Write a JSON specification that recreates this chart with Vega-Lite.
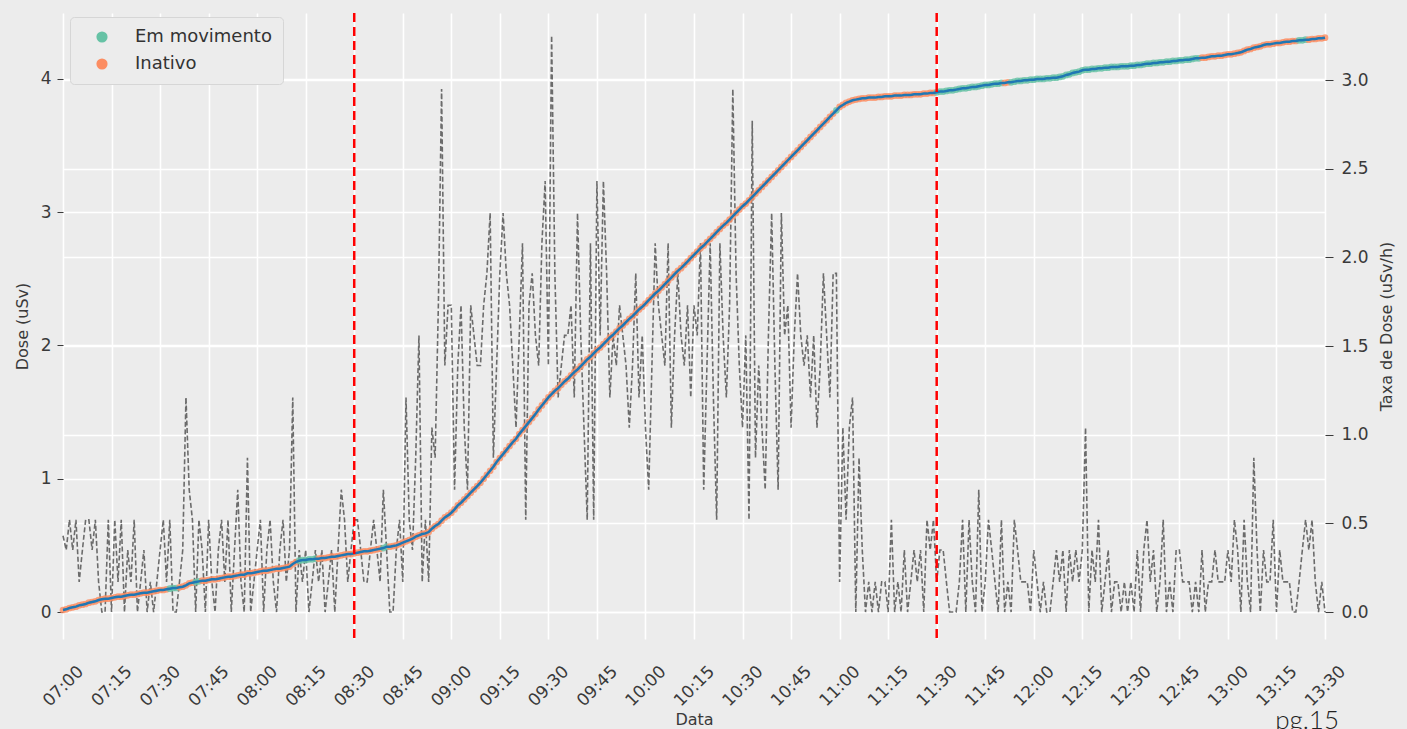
{
  "$schema": "https://vega.github.io/schema/vega-lite/v6.json",
  "autosize": "none",
  "width": 1262,
  "height": 626,
  "padding": {"left": 63, "top": 13, "right": 82, "bottom": 90},
  "background": "#ececec",
  "title": {"text": "pg.15", "orient": "bottom", "anchor": "end", "font": "Lato", "fontSize": 26, "fontWeight": 300, "color": "#222222", "offset": -20, "dx": -55},
  "config": {
    "view": {"fill": "#ececec", "stroke": null},
    "axis": {"domain": false, "gridColor": "#ffffff", "gridWidth": 1.6, "gridOpacity": 1, "labelFont": "DejaVu Sans", "titleFont": "DejaVu Sans", "labelColor": "#3a3a3a", "titleColor": "#3a3a3a", "titleFontWeight": "normal", "tickColor": "#3a3a3a", "labelFontSize": 17, "titleFontSize": 16}
  },
  "data": {
    "format": {"parse": {"hora": "utc:'%H:%M'"}},
    "values": [
{"hora":"07:00","dose":0.015,"taxa":0.43,"estado":"Inativo"},
{"hora":"07:01","dose":0.02,"taxa":0.35,"estado":"Inativo"},
{"hora":"07:02","dose":0.03,"taxa":0.52,"estado":"Inativo"},
{"hora":"07:03","dose":0.035,"taxa":0.35,"estado":"Inativo"},
{"hora":"07:04","dose":0.04,"taxa":0.52,"estado":"Inativo"},
{"hora":"07:05","dose":0.05,"taxa":0.17,"estado":"Inativo"},
{"hora":"07:06","dose":0.055,"taxa":0.35,"estado":"Inativo"},
{"hora":"07:07","dose":0.06,"taxa":0.52,"estado":"Inativo"},
{"hora":"07:08","dose":0.07,"taxa":0.52,"estado":"Inativo"},
{"hora":"07:09","dose":0.075,"taxa":0.35,"estado":"Inativo"},
{"hora":"07:10","dose":0.08,"taxa":0.52,"estado":"Inativo"},
{"hora":"07:11","dose":0.09,"taxa":0.17,"estado":"Inativo"},
{"hora":"07:12","dose":0.095,"taxa":0,"estado":"Inativo"},
{"hora":"07:13","dose":0.1,"taxa":0,"estado":"Inativo"},
{"hora":"07:14","dose":0.1,"taxa":0.52,"estado":"Inativo"},
{"hora":"07:15","dose":0.105,"taxa":0,"estado":"Inativo"},
{"hora":"07:16","dose":0.11,"taxa":0.52,"estado":"Inativo"},
{"hora":"07:17","dose":0.115,"taxa":0.17,"estado":"Inativo"},
{"hora":"07:18","dose":0.115,"taxa":0.52,"estado":"Inativo"},
{"hora":"07:19","dose":0.12,"taxa":0,"estado":"Inativo"},
{"hora":"07:20","dose":0.125,"taxa":0.35,"estado":"Inativo"},
{"hora":"07:21","dose":0.13,"taxa":0.17,"estado":"Inativo"},
{"hora":"07:22","dose":0.13,"taxa":0.52,"estado":"Inativo"},
{"hora":"07:23","dose":0.135,"taxa":0,"estado":"Inativo"},
{"hora":"07:24","dose":0.14,"taxa":0.17,"estado":"Inativo"},
{"hora":"07:25","dose":0.145,"taxa":0.35,"estado":"Inativo"},
{"hora":"07:26","dose":0.145,"taxa":0,"estado":"Inativo"},
{"hora":"07:27","dose":0.15,"taxa":0.17,"estado":"Inativo"},
{"hora":"07:28","dose":0.155,"taxa":0,"estado":"Inativo"},
{"hora":"07:29","dose":0.16,"taxa":0.17,"estado":"Inativo"},
{"hora":"07:30","dose":0.165,"taxa":0.35,"estado":"Inativo"},
{"hora":"07:31","dose":0.165,"taxa":0.52,"estado":"Inativo"},
{"hora":"07:32","dose":0.17,"taxa":0.17,"estado":"Inativo"},
{"hora":"07:33","dose":0.175,"taxa":0.52,"estado":"Em movimento"},
{"hora":"07:34","dose":0.18,"taxa":0,"estado":"Em movimento"},
{"hora":"07:35","dose":0.18,"taxa":0,"estado":"Em movimento"},
{"hora":"07:36","dose":0.185,"taxa":0.17,"estado":"Inativo"},
{"hora":"07:37","dose":0.19,"taxa":0.35,"estado":"Inativo"},
{"hora":"07:38","dose":0.2,"taxa":1.21,"estado":"Inativo"},
{"hora":"07:39","dose":0.215,"taxa":0.69,"estado":"Inativo"},
{"hora":"07:40","dose":0.22,"taxa":0.52,"estado":"Inativo"},
{"hora":"07:41","dose":0.225,"taxa":0,"estado":"Em movimento"},
{"hora":"07:42","dose":0.23,"taxa":0.52,"estado":"Em movimento"},
{"hora":"07:43","dose":0.235,"taxa":0.35,"estado":"Inativo"},
{"hora":"07:44","dose":0.235,"taxa":0,"estado":"Inativo"},
{"hora":"07:45","dose":0.24,"taxa":0.52,"estado":"Inativo"},
{"hora":"07:46","dose":0.245,"taxa":0.17,"estado":"Inativo"},
{"hora":"07:47","dose":0.245,"taxa":0,"estado":"Inativo"},
{"hora":"07:48","dose":0.25,"taxa":0.35,"estado":"Inativo"},
{"hora":"07:49","dose":0.255,"taxa":0.52,"estado":"Inativo"},
{"hora":"07:50","dose":0.26,"taxa":0.17,"estado":"Inativo"},
{"hora":"07:51","dose":0.265,"taxa":0.52,"estado":"Inativo"},
{"hora":"07:52","dose":0.265,"taxa":0,"estado":"Inativo"},
{"hora":"07:53","dose":0.27,"taxa":0.35,"estado":"Inativo"},
{"hora":"07:54","dose":0.275,"taxa":0.69,"estado":"Inativo"},
{"hora":"07:55","dose":0.28,"taxa":0.17,"estado":"Inativo"},
{"hora":"07:56","dose":0.28,"taxa":0,"estado":"Inativo"},
{"hora":"07:57","dose":0.29,"taxa":0.87,"estado":"Inativo"},
{"hora":"07:58","dose":0.29,"taxa":0,"estado":"Inativo"},
{"hora":"07:59","dose":0.295,"taxa":0.17,"estado":"Inativo"},
{"hora":"08:00","dose":0.3,"taxa":0.35,"estado":"Inativo"},
{"hora":"08:01","dose":0.305,"taxa":0.52,"estado":"Inativo"},
{"hora":"08:02","dose":0.31,"taxa":0,"estado":"Inativo"},
{"hora":"08:03","dose":0.31,"taxa":0.35,"estado":"Inativo"},
{"hora":"08:04","dose":0.315,"taxa":0.52,"estado":"Inativo"},
{"hora":"08:05","dose":0.32,"taxa":0.17,"estado":"Inativo"},
{"hora":"08:06","dose":0.325,"taxa":0,"estado":"Inativo"},
{"hora":"08:07","dose":0.325,"taxa":0.35,"estado":"Inativo"},
{"hora":"08:08","dose":0.33,"taxa":0.52,"estado":"Inativo"},
{"hora":"08:09","dose":0.335,"taxa":0.17,"estado":"Inativo"},
{"hora":"08:10","dose":0.34,"taxa":0.35,"estado":"Inativo"},
{"hora":"08:11","dose":0.36,"taxa":1.21,"estado":"Inativo"},
{"hora":"08:12","dose":0.375,"taxa":0,"estado":"Inativo"},
{"hora":"08:13","dose":0.385,"taxa":0.35,"estado":"Em movimento"},
{"hora":"08:14","dose":0.39,"taxa":0.17,"estado":"Em movimento"},
{"hora":"08:15","dose":0.39,"taxa":0.35,"estado":"Em movimento"},
{"hora":"08:16","dose":0.395,"taxa":0,"estado":"Em movimento"},
{"hora":"08:17","dose":0.395,"taxa":0.17,"estado":"Em movimento"},
{"hora":"08:18","dose":0.4,"taxa":0.35,"estado":"Em movimento"},
{"hora":"08:19","dose":0.4,"taxa":0.17,"estado":"Inativo"},
{"hora":"08:20","dose":0.405,"taxa":0.35,"estado":"Inativo"},
{"hora":"08:21","dose":0.405,"taxa":0,"estado":"Inativo"},
{"hora":"08:22","dose":0.41,"taxa":0.17,"estado":"Inativo"},
{"hora":"08:23","dose":0.415,"taxa":0.35,"estado":"Inativo"},
{"hora":"08:24","dose":0.415,"taxa":0,"estado":"Inativo"},
{"hora":"08:25","dose":0.42,"taxa":0.35,"estado":"Inativo"},
{"hora":"08:26","dose":0.425,"taxa":0.69,"estado":"Inativo"},
{"hora":"08:27","dose":0.43,"taxa":0.52,"estado":"Inativo"},
{"hora":"08:28","dose":0.435,"taxa":0.17,"estado":"Inativo"},
{"hora":"08:29","dose":0.435,"taxa":0.35,"estado":"Inativo"},
{"hora":"08:30","dose":0.44,"taxa":0.52,"estado":"Inativo"},
{"hora":"08:31","dose":0.445,"taxa":0.52,"estado":"Inativo"},
{"hora":"08:32","dose":0.45,"taxa":0.35,"estado":"Inativo"},
{"hora":"08:33","dose":0.455,"taxa":0.17,"estado":"Inativo"},
{"hora":"08:34","dose":0.455,"taxa":0.17,"estado":"Inativo"},
{"hora":"08:35","dose":0.46,"taxa":0.35,"estado":"Inativo"},
{"hora":"08:36","dose":0.465,"taxa":0.52,"estado":"Inativo"},
{"hora":"08:37","dose":0.47,"taxa":0.35,"estado":"Inativo"},
{"hora":"08:38","dose":0.475,"taxa":0.17,"estado":"Inativo"},
{"hora":"08:39","dose":0.48,"taxa":0.69,"estado":"Em movimento"},
{"hora":"08:40","dose":0.49,"taxa":0.35,"estado":"Em movimento"},
{"hora":"08:41","dose":0.49,"taxa":0,"estado":"Inativo"},
{"hora":"08:42","dose":0.495,"taxa":0,"estado":"Inativo"},
{"hora":"08:43","dose":0.5,"taxa":0.35,"estado":"Inativo"},
{"hora":"08:44","dose":0.51,"taxa":0.52,"estado":"Inativo"},
{"hora":"08:45","dose":0.52,"taxa":0.17,"estado":"Inativo"},
{"hora":"08:46","dose":0.53,"taxa":1.21,"estado":"Inativo"},
{"hora":"08:47","dose":0.54,"taxa":0.52,"estado":"Inativo"},
{"hora":"08:48","dose":0.55,"taxa":0.35,"estado":"Inativo"},
{"hora":"08:49","dose":0.565,"taxa":0.87,"estado":"Inativo"},
{"hora":"08:50","dose":0.575,"taxa":1.56,"estado":"Inativo"},
{"hora":"08:51","dose":0.585,"taxa":0.17,"estado":"Inativo"},
{"hora":"08:52","dose":0.59,"taxa":0.52,"estado":"Inativo"},
{"hora":"08:53","dose":0.6,"taxa":0.17,"estado":"Inativo"},
{"hora":"08:54","dose":0.625,"taxa":1.04,"estado":"Inativo"},
{"hora":"08:55","dose":0.645,"taxa":0.87,"estado":"Inativo"},
{"hora":"08:56","dose":0.66,"taxa":1.73,"estado":"Inativo"},
{"hora":"08:57","dose":0.685,"taxa":2.95,"estado":"Inativo"},
{"hora":"08:58","dose":0.71,"taxa":1.39,"estado":"Inativo"},
{"hora":"08:59","dose":0.725,"taxa":1.73,"estado":"Inativo"},
{"hora":"09:00","dose":0.745,"taxa":1.73,"estado":"Inativo"},
{"hora":"09:01","dose":0.77,"taxa":0.69,"estado":"Inativo"},
{"hora":"09:02","dose":0.8,"taxa":1.39,"estado":"Inativo"},
{"hora":"09:03","dose":0.82,"taxa":1.73,"estado":"Inativo"},
{"hora":"09:04","dose":0.845,"taxa":1.04,"estado":"Inativo"},
{"hora":"09:05","dose":0.87,"taxa":0.69,"estado":"Inativo"},
{"hora":"09:06","dose":0.895,"taxa":1.73,"estado":"Inativo"},
{"hora":"09:07","dose":0.92,"taxa":1.56,"estado":"Inativo"},
{"hora":"09:08","dose":0.945,"taxa":1.39,"estado":"Inativo"},
{"hora":"09:09","dose":0.97,"taxa":1.39,"estado":"Inativo"},
{"hora":"09:10","dose":1.0,"taxa":1.73,"estado":"Inativo"},
{"hora":"09:11","dose":1.03,"taxa":1.91,"estado":"Inativo"},
{"hora":"09:12","dose":1.06,"taxa":2.25,"estado":"Inativo"},
{"hora":"09:13","dose":1.09,"taxa":0.87,"estado":"Inativo"},
{"hora":"09:14","dose":1.125,"taxa":1.39,"estado":"Inativo"},
{"hora":"09:15","dose":1.155,"taxa":1.91,"estado":"Inativo"},
{"hora":"09:16","dose":1.185,"taxa":2.25,"estado":"Inativo"},
{"hora":"09:17","dose":1.215,"taxa":1.91,"estado":"Inativo"},
{"hora":"09:18","dose":1.245,"taxa":1.73,"estado":"Inativo"},
{"hora":"09:19","dose":1.275,"taxa":1.39,"estado":"Inativo"},
{"hora":"09:20","dose":1.3,"taxa":1.04,"estado":"Inativo"},
{"hora":"09:21","dose":1.335,"taxa":1.56,"estado":"Inativo"},
{"hora":"09:22","dose":1.365,"taxa":2.08,"estado":"Inativo"},
{"hora":"09:23","dose":1.395,"taxa":0.52,"estado":"Inativo"},
{"hora":"09:24","dose":1.425,"taxa":1.73,"estado":"Inativo"},
{"hora":"09:25","dose":1.455,"taxa":1.91,"estado":"Inativo"},
{"hora":"09:26","dose":1.485,"taxa":1.56,"estado":"Inativo"},
{"hora":"09:27","dose":1.52,"taxa":1.39,"estado":"Inativo"},
{"hora":"09:28","dose":1.55,"taxa":2.08,"estado":"Inativo"},
{"hora":"09:29","dose":1.58,"taxa":2.43,"estado":"Inativo"},
{"hora":"09:30","dose":1.61,"taxa":1.39,"estado":"Inativo"},
{"hora":"09:31","dose":1.635,"taxa":3.25,"estado":"Inativo"},
{"hora":"09:32","dose":1.66,"taxa":1.91,"estado":"Inativo"},
{"hora":"09:33","dose":1.68,"taxa":1.21,"estado":"Inativo"},
{"hora":"09:34","dose":1.705,"taxa":1.39,"estado":"Inativo"},
{"hora":"09:35","dose":1.73,"taxa":1.56,"estado":"Inativo"},
{"hora":"09:36","dose":1.75,"taxa":1.56,"estado":"Inativo"},
{"hora":"09:37","dose":1.775,"taxa":1.73,"estado":"Inativo"},
{"hora":"09:38","dose":1.8,"taxa":1.21,"estado":"Inativo"},
{"hora":"09:39","dose":1.82,"taxa":2.25,"estado":"Inativo"},
{"hora":"09:40","dose":1.845,"taxa":1.56,"estado":"Inativo"},
{"hora":"09:41","dose":1.87,"taxa":1.04,"estado":"Inativo"},
{"hora":"09:42","dose":1.895,"taxa":0.52,"estado":"Inativo"},
{"hora":"09:43","dose":1.915,"taxa":2.08,"estado":"Inativo"},
{"hora":"09:44","dose":1.94,"taxa":0.52,"estado":"Inativo"},
{"hora":"09:45","dose":1.965,"taxa":2.43,"estado":"Inativo"},
{"hora":"09:46","dose":1.985,"taxa":1.56,"estado":"Inativo"},
{"hora":"09:47","dose":2.01,"taxa":2.43,"estado":"Inativo"},
{"hora":"09:48","dose":2.035,"taxa":1.91,"estado":"Inativo"},
{"hora":"09:49","dose":2.06,"taxa":1.21,"estado":"Inativo"},
{"hora":"09:50","dose":2.08,"taxa":1.56,"estado":"Inativo"},
{"hora":"09:51","dose":2.105,"taxa":1.39,"estado":"Inativo"},
{"hora":"09:52","dose":2.13,"taxa":1.73,"estado":"Inativo"},
{"hora":"09:53","dose":2.15,"taxa":1.56,"estado":"Inativo"},
{"hora":"09:54","dose":2.175,"taxa":1.39,"estado":"Inativo"},
{"hora":"09:55","dose":2.2,"taxa":1.04,"estado":"Inativo"},
{"hora":"09:56","dose":2.22,"taxa":1.39,"estado":"Inativo"},
{"hora":"09:57","dose":2.245,"taxa":1.91,"estado":"Inativo"},
{"hora":"09:58","dose":2.27,"taxa":1.21,"estado":"Inativo"},
{"hora":"09:59","dose":2.29,"taxa":1.56,"estado":"Inativo"},
{"hora":"10:00","dose":2.315,"taxa":1.04,"estado":"Inativo"},
{"hora":"10:01","dose":2.34,"taxa":0.69,"estado":"Inativo"},
{"hora":"10:02","dose":2.365,"taxa":1.39,"estado":"Inativo"},
{"hora":"10:03","dose":2.39,"taxa":2.08,"estado":"Inativo"},
{"hora":"10:04","dose":2.41,"taxa":1.73,"estado":"Inativo"},
{"hora":"10:05","dose":2.435,"taxa":1.56,"estado":"Inativo"},
{"hora":"10:06","dose":2.46,"taxa":1.39,"estado":"Inativo"},
{"hora":"10:07","dose":2.485,"taxa":2.08,"estado":"Inativo"},
{"hora":"10:08","dose":2.51,"taxa":1.04,"estado":"Inativo"},
{"hora":"10:09","dose":2.535,"taxa":1.56,"estado":"Inativo"},
{"hora":"10:10","dose":2.56,"taxa":1.91,"estado":"Inativo"},
{"hora":"10:11","dose":2.58,"taxa":1.56,"estado":"Inativo"},
{"hora":"10:12","dose":2.605,"taxa":1.39,"estado":"Inativo"},
{"hora":"10:13","dose":2.63,"taxa":1.73,"estado":"Inativo"},
{"hora":"10:14","dose":2.655,"taxa":1.21,"estado":"Inativo"},
{"hora":"10:15","dose":2.68,"taxa":1.73,"estado":"Inativo"},
{"hora":"10:16","dose":2.705,"taxa":1.56,"estado":"Inativo"},
{"hora":"10:17","dose":2.73,"taxa":2.08,"estado":"Inativo"},
{"hora":"10:18","dose":2.75,"taxa":0.69,"estado":"Inativo"},
{"hora":"10:19","dose":2.775,"taxa":1.39,"estado":"Inativo"},
{"hora":"10:20","dose":2.8,"taxa":2.08,"estado":"Inativo"},
{"hora":"10:21","dose":2.825,"taxa":1.21,"estado":"Inativo"},
{"hora":"10:22","dose":2.85,"taxa":0.52,"estado":"Inativo"},
{"hora":"10:23","dose":2.875,"taxa":2.08,"estado":"Inativo"},
{"hora":"10:24","dose":2.9,"taxa":1.56,"estado":"Inativo"},
{"hora":"10:25","dose":2.92,"taxa":1.21,"estado":"Inativo"},
{"hora":"10:26","dose":2.945,"taxa":1.73,"estado":"Inativo"},
{"hora":"10:27","dose":2.97,"taxa":2.95,"estado":"Inativo"},
{"hora":"10:28","dose":2.995,"taxa":1.91,"estado":"Inativo"},
{"hora":"10:29","dose":3.02,"taxa":1.39,"estado":"Inativo"},
{"hora":"10:30","dose":3.045,"taxa":1.04,"estado":"Inativo"},
{"hora":"10:31","dose":3.065,"taxa":1.56,"estado":"Inativo"},
{"hora":"10:32","dose":3.09,"taxa":0.52,"estado":"Inativo"},
{"hora":"10:33","dose":3.115,"taxa":2.77,"estado":"Inativo"},
{"hora":"10:34","dose":3.14,"taxa":0.87,"estado":"Inativo"},
{"hora":"10:35","dose":3.165,"taxa":1.39,"estado":"Inativo"},
{"hora":"10:36","dose":3.19,"taxa":1.04,"estado":"Inativo"},
{"hora":"10:37","dose":3.215,"taxa":0.69,"estado":"Inativo"},
{"hora":"10:38","dose":3.24,"taxa":1.56,"estado":"Inativo"},
{"hora":"10:39","dose":3.265,"taxa":2.25,"estado":"Inativo"},
{"hora":"10:40","dose":3.29,"taxa":1.39,"estado":"Inativo"},
{"hora":"10:41","dose":3.315,"taxa":0.69,"estado":"Inativo"},
{"hora":"10:42","dose":3.34,"taxa":2.25,"estado":"Inativo"},
{"hora":"10:43","dose":3.365,"taxa":1.56,"estado":"Inativo"},
{"hora":"10:44","dose":3.39,"taxa":1.73,"estado":"Inativo"},
{"hora":"10:45","dose":3.415,"taxa":1.04,"estado":"Inativo"},
{"hora":"10:46","dose":3.44,"taxa":1.56,"estado":"Inativo"},
{"hora":"10:47","dose":3.465,"taxa":1.91,"estado":"Inativo"},
{"hora":"10:48","dose":3.49,"taxa":1.56,"estado":"Inativo"},
{"hora":"10:49","dose":3.515,"taxa":1.39,"estado":"Inativo"},
{"hora":"10:50","dose":3.54,"taxa":1.56,"estado":"Inativo"},
{"hora":"10:51","dose":3.565,"taxa":1.21,"estado":"Inativo"},
{"hora":"10:52","dose":3.59,"taxa":1.56,"estado":"Inativo"},
{"hora":"10:53","dose":3.615,"taxa":1.04,"estado":"Inativo"},
{"hora":"10:54","dose":3.64,"taxa":1.39,"estado":"Inativo"},
{"hora":"10:55","dose":3.665,"taxa":1.91,"estado":"Inativo"},
{"hora":"10:56","dose":3.69,"taxa":1.56,"estado":"Inativo"},
{"hora":"10:57","dose":3.715,"taxa":1.21,"estado":"Inativo"},
{"hora":"10:58","dose":3.74,"taxa":1.91,"estado":"Inativo"},
{"hora":"10:59","dose":3.765,"taxa":1.91,"estado":"Em movimento"},
{"hora":"11:00","dose":3.79,"taxa":0.17,"estado":"Inativo"},
{"hora":"11:01","dose":3.805,"taxa":1.04,"estado":"Inativo"},
{"hora":"11:02","dose":3.82,"taxa":0.52,"estado":"Inativo"},
{"hora":"11:03","dose":3.83,"taxa":1.04,"estado":"Inativo"},
{"hora":"11:04","dose":3.84,"taxa":1.21,"estado":"Inativo"},
{"hora":"11:05","dose":3.845,"taxa":0,"estado":"Inativo"},
{"hora":"11:06","dose":3.85,"taxa":0.87,"estado":"Inativo"},
{"hora":"11:07","dose":3.855,"taxa":0.35,"estado":"Inativo"},
{"hora":"11:08","dose":3.855,"taxa":0,"estado":"Inativo"},
{"hora":"11:09","dose":3.86,"taxa":0.17,"estado":"Inativo"},
{"hora":"11:10","dose":3.86,"taxa":0,"estado":"Inativo"},
{"hora":"11:11","dose":3.86,"taxa":0.17,"estado":"Inativo"},
{"hora":"11:12","dose":3.865,"taxa":0,"estado":"Inativo"},
{"hora":"11:13","dose":3.865,"taxa":0.17,"estado":"Inativo"},
{"hora":"11:14","dose":3.87,"taxa":0.17,"estado":"Inativo"},
{"hora":"11:15","dose":3.87,"taxa":0,"estado":"Inativo"},
{"hora":"11:16","dose":3.87,"taxa":0.52,"estado":"Inativo"},
{"hora":"11:17","dose":3.875,"taxa":0,"estado":"Inativo"},
{"hora":"11:18","dose":3.875,"taxa":0.17,"estado":"Inativo"},
{"hora":"11:19","dose":3.875,"taxa":0,"estado":"Inativo"},
{"hora":"11:20","dose":3.88,"taxa":0.35,"estado":"Inativo"},
{"hora":"11:21","dose":3.88,"taxa":0,"estado":"Inativo"},
{"hora":"11:22","dose":3.88,"taxa":0.17,"estado":"Inativo"},
{"hora":"11:23","dose":3.885,"taxa":0.35,"estado":"Inativo"},
{"hora":"11:24","dose":3.885,"taxa":0.17,"estado":"Inativo"},
{"hora":"11:25","dose":3.885,"taxa":0.35,"estado":"Inativo"},
{"hora":"11:26","dose":3.89,"taxa":0,"estado":"Inativo"},
{"hora":"11:27","dose":3.89,"taxa":0.52,"estado":"Inativo"},
{"hora":"11:28","dose":3.895,"taxa":0.35,"estado":"Inativo"},
{"hora":"11:29","dose":3.895,"taxa":0.52,"estado":"Inativo"},
{"hora":"11:30","dose":3.9,"taxa":0.17,"estado":"Em movimento"},
{"hora":"11:31","dose":3.905,"taxa":0.35,"estado":"Em movimento"},
{"hora":"11:32","dose":3.905,"taxa":0.35,"estado":"Em movimento"},
{"hora":"11:33","dose":3.91,"taxa":0.17,"estado":"Em movimento"},
{"hora":"11:34","dose":3.915,"taxa":0,"estado":"Em movimento"},
{"hora":"11:35","dose":3.915,"taxa":0,"estado":"Em movimento"},
{"hora":"11:36","dose":3.92,"taxa":0,"estado":"Em movimento"},
{"hora":"11:37","dose":3.925,"taxa":0.17,"estado":"Em movimento"},
{"hora":"11:38","dose":3.93,"taxa":0.52,"estado":"Em movimento"},
{"hora":"11:39","dose":3.93,"taxa":0,"estado":"Em movimento"},
{"hora":"11:40","dose":3.935,"taxa":0.52,"estado":"Em movimento"},
{"hora":"11:41","dose":3.94,"taxa":0.17,"estado":"Em movimento"},
{"hora":"11:42","dose":3.94,"taxa":0,"estado":"Em movimento"},
{"hora":"11:43","dose":3.945,"taxa":0.69,"estado":"Em movimento"},
{"hora":"11:44","dose":3.95,"taxa":0,"estado":"Em movimento"},
{"hora":"11:45","dose":3.955,"taxa":0.17,"estado":"Em movimento"},
{"hora":"11:46","dose":3.955,"taxa":0.52,"estado":"Em movimento"},
{"hora":"11:47","dose":3.96,"taxa":0.35,"estado":"Em movimento"},
{"hora":"11:48","dose":3.965,"taxa":0.17,"estado":"Em movimento"},
{"hora":"11:49","dose":3.965,"taxa":0,"estado":"Em movimento"},
{"hora":"11:50","dose":3.97,"taxa":0.52,"estado":"Em movimento"},
{"hora":"11:51","dose":3.97,"taxa":0,"estado":"Inativo"},
{"hora":"11:52","dose":3.975,"taxa":0.17,"estado":"Inativo"},
{"hora":"11:53","dose":3.975,"taxa":0,"estado":"Em movimento"},
{"hora":"11:54","dose":3.98,"taxa":0.52,"estado":"Em movimento"},
{"hora":"11:55","dose":3.985,"taxa":0.35,"estado":"Em movimento"},
{"hora":"11:56","dose":3.985,"taxa":0.17,"estado":"Em movimento"},
{"hora":"11:57","dose":3.99,"taxa":0.17,"estado":"Em movimento"},
{"hora":"11:58","dose":3.99,"taxa":0.17,"estado":"Em movimento"},
{"hora":"11:59","dose":3.995,"taxa":0,"estado":"Em movimento"},
{"hora":"12:00","dose":3.995,"taxa":0.35,"estado":"Em movimento"},
{"hora":"12:01","dose":4.0,"taxa":0.17,"estado":"Em movimento"},
{"hora":"12:02","dose":4.0,"taxa":0,"estado":"Em movimento"},
{"hora":"12:03","dose":4.0,"taxa":0.17,"estado":"Em movimento"},
{"hora":"12:04","dose":4.005,"taxa":0,"estado":"Em movimento"},
{"hora":"12:05","dose":4.005,"taxa":0,"estado":"Em movimento"},
{"hora":"12:06","dose":4.01,"taxa":0.17,"estado":"Em movimento"},
{"hora":"12:07","dose":4.01,"taxa":0.35,"estado":"Em movimento"},
{"hora":"12:08","dose":4.015,"taxa":0.17,"estado":"Em movimento"},
{"hora":"12:09","dose":4.02,"taxa":0.35,"estado":"Em movimento"},
{"hora":"12:10","dose":4.03,"taxa":0,"estado":"Em movimento"},
{"hora":"12:11","dose":4.035,"taxa":0.35,"estado":"Em movimento"},
{"hora":"12:12","dose":4.045,"taxa":0.17,"estado":"Em movimento"},
{"hora":"12:13","dose":4.05,"taxa":0.35,"estado":"Em movimento"},
{"hora":"12:14","dose":4.055,"taxa":0.17,"estado":"Em movimento"},
{"hora":"12:15","dose":4.065,"taxa":0.35,"estado":"Em movimento"},
{"hora":"12:16","dose":4.07,"taxa":1.04,"estado":"Em movimento"},
{"hora":"12:17","dose":4.07,"taxa":0,"estado":"Em movimento"},
{"hora":"12:18","dose":4.075,"taxa":0.35,"estado":"Em movimento"},
{"hora":"12:19","dose":4.075,"taxa":0.17,"estado":"Em movimento"},
{"hora":"12:20","dose":4.08,"taxa":0.52,"estado":"Em movimento"},
{"hora":"12:21","dose":4.08,"taxa":0,"estado":"Em movimento"},
{"hora":"12:22","dose":4.085,"taxa":0.17,"estado":"Em movimento"},
{"hora":"12:23","dose":4.085,"taxa":0.35,"estado":"Em movimento"},
{"hora":"12:24","dose":4.09,"taxa":0,"estado":"Em movimento"},
{"hora":"12:25","dose":4.09,"taxa":0.17,"estado":"Em movimento"},
{"hora":"12:26","dose":4.09,"taxa":0.17,"estado":"Em movimento"},
{"hora":"12:27","dose":4.095,"taxa":0,"estado":"Em movimento"},
{"hora":"12:28","dose":4.095,"taxa":0.17,"estado":"Em movimento"},
{"hora":"12:29","dose":4.095,"taxa":0,"estado":"Em movimento"},
{"hora":"12:30","dose":4.1,"taxa":0.17,"estado":"Em movimento"},
{"hora":"12:31","dose":4.1,"taxa":0,"estado":"Em movimento"},
{"hora":"12:32","dose":4.105,"taxa":0.35,"estado":"Em movimento"},
{"hora":"12:33","dose":4.105,"taxa":0,"estado":"Em movimento"},
{"hora":"12:34","dose":4.11,"taxa":0.35,"estado":"Em movimento"},
{"hora":"12:35","dose":4.115,"taxa":0.52,"estado":"Em movimento"},
{"hora":"12:36","dose":4.115,"taxa":0.17,"estado":"Em movimento"},
{"hora":"12:37","dose":4.12,"taxa":0.35,"estado":"Em movimento"},
{"hora":"12:38","dose":4.12,"taxa":0,"estado":"Em movimento"},
{"hora":"12:39","dose":4.125,"taxa":0.17,"estado":"Em movimento"},
{"hora":"12:40","dose":4.125,"taxa":0.52,"estado":"Em movimento"},
{"hora":"12:41","dose":4.13,"taxa":0,"estado":"Em movimento"},
{"hora":"12:42","dose":4.13,"taxa":0.17,"estado":"Em movimento"},
{"hora":"12:43","dose":4.135,"taxa":0,"estado":"Em movimento"},
{"hora":"12:44","dose":4.135,"taxa":0.35,"estado":"Em movimento"},
{"hora":"12:45","dose":4.14,"taxa":0.35,"estado":"Em movimento"},
{"hora":"12:46","dose":4.14,"taxa":0.17,"estado":"Em movimento"},
{"hora":"12:47","dose":4.145,"taxa":0.17,"estado":"Em movimento"},
{"hora":"12:48","dose":4.145,"taxa":0.17,"estado":"Em movimento"},
{"hora":"12:49","dose":4.15,"taxa":0,"estado":"Em movimento"},
{"hora":"12:50","dose":4.155,"taxa":0.17,"estado":"Em movimento"},
{"hora":"12:51","dose":4.155,"taxa":0,"estado":"Em movimento"},
{"hora":"12:52","dose":4.16,"taxa":0.35,"estado":"Inativo"},
{"hora":"12:53","dose":4.16,"taxa":0,"estado":"Inativo"},
{"hora":"12:54","dose":4.165,"taxa":0.17,"estado":"Inativo"},
{"hora":"12:55","dose":4.17,"taxa":0.17,"estado":"Inativo"},
{"hora":"12:56","dose":4.17,"taxa":0.35,"estado":"Inativo"},
{"hora":"12:57","dose":4.175,"taxa":0.17,"estado":"Inativo"},
{"hora":"12:58","dose":4.175,"taxa":0.17,"estado":"Inativo"},
{"hora":"12:59","dose":4.18,"taxa":0.17,"estado":"Inativo"},
{"hora":"13:00","dose":4.185,"taxa":0.35,"estado":"Inativo"},
{"hora":"13:01","dose":4.185,"taxa":0.17,"estado":"Inativo"},
{"hora":"13:02","dose":4.19,"taxa":0.52,"estado":"Inativo"},
{"hora":"13:03","dose":4.195,"taxa":0.35,"estado":"Inativo"},
{"hora":"13:04","dose":4.2,"taxa":0,"estado":"Inativo"},
{"hora":"13:05","dose":4.21,"taxa":0.52,"estado":"Inativo"},
{"hora":"13:06","dose":4.22,"taxa":0.17,"estado":"Inativo"},
{"hora":"13:07","dose":4.225,"taxa":0,"estado":"Inativo"},
{"hora":"13:08","dose":4.235,"taxa":0.87,"estado":"Inativo"},
{"hora":"13:09","dose":4.24,"taxa":0.35,"estado":"Inativo"},
{"hora":"13:10","dose":4.245,"taxa":0,"estado":"Inativo"},
{"hora":"13:11","dose":4.255,"taxa":0.35,"estado":"Inativo"},
{"hora":"13:12","dose":4.26,"taxa":0.17,"estado":"Inativo"},
{"hora":"13:13","dose":4.26,"taxa":0.17,"estado":"Inativo"},
{"hora":"13:14","dose":4.265,"taxa":0.52,"estado":"Inativo"},
{"hora":"13:15","dose":4.27,"taxa":0,"estado":"Inativo"},
{"hora":"13:16","dose":4.27,"taxa":0.35,"estado":"Inativo"},
{"hora":"13:17","dose":4.275,"taxa":0.17,"estado":"Inativo"},
{"hora":"13:18","dose":4.28,"taxa":0.17,"estado":"Inativo"},
{"hora":"13:19","dose":4.28,"taxa":0.17,"estado":"Inativo"},
{"hora":"13:20","dose":4.285,"taxa":0,"estado":"Inativo"},
{"hora":"13:21","dose":4.285,"taxa":0,"estado":"Inativo"},
{"hora":"13:22","dose":4.29,"taxa":0.17,"estado":"Em movimento"},
{"hora":"13:23","dose":4.29,"taxa":0.35,"estado":"Em movimento"},
{"hora":"13:24","dose":4.295,"taxa":0.52,"estado":"Em movimento"},
{"hora":"13:25","dose":4.295,"taxa":0.35,"estado":"Inativo"},
{"hora":"13:26","dose":4.3,"taxa":0.52,"estado":"Inativo"},
{"hora":"13:27","dose":4.3,"taxa":0.17,"estado":"Inativo"},
{"hora":"13:28","dose":4.305,"taxa":0,"estado":"Inativo"},
{"hora":"13:29","dose":4.305,"taxa":0.17,"estado":"Inativo"},
{"hora":"13:30","dose":4.31,"taxa":0,"estado":"Inativo"}
    ]
  },
  "layer": [
    {
      "mark": {"type": "line", "color": "#555555", "strokeDash": [5, 2.5], "strokeWidth": 1.6, "opacity": 0.85},
      "encoding": {
        "x": {"field": "hora", "type": "temporal", "scale": {"type": "utc"},
          "axis": {"title": "Data", "format": "%H:%M", "labelAngle": -45, "labelAlign": "center", "labelBaseline": "middle", "ticks": false, "tickSize": 0, "labelPadding": 47, "titlePadding": 3, "labelOverlap": false, "labelFlush": false, "labelBound": false, "grid": true}},
        "y": {"field": "taxa", "type": "quantitative", "scale": {"domain": [-0.152, 3.378], "nice": false, "zero": false},
          "axis": {"orient": "right", "title": "Taxa de Dose (uSv/h)", "values": [0, 0.5, 1, 1.5, 2, 2.5, 3], "format": ".1f", "tickSize": 8, "labelPadding": 8, "titlePadding": 10, "titleAngle": -90, "titleBaseline": "top", "grid": true}}
      }
    },
    {
      "layer": [
        {
          "mark": {"type": "point", "filled": true, "size": 45, "opacity": 0.8},
          "encoding": {
            "x": {"field": "hora", "type": "temporal"},
            "y": {"field": "dose", "type": "quantitative", "scale": {"domain": [-0.2026, 4.495], "nice": false, "zero": false},
              "axis": {"orient": "left", "title": "Dose (uSv)", "values": [0, 1, 2, 3, 4], "format": "d", "tickSize": 6, "labelPadding": 6, "titlePadding": 10, "grid": true}},
            "color": {"field": "estado", "type": "nominal",
              "scale": {"domain": ["Em movimento", "Inativo"], "range": ["#66c2a5", "#fc8d62"]},
              "legend": {"title": null, "orient": "none", "legendX": 7, "legendY": 4, "padding": 11, "symbolOffset": 12, "labelOffset": 24, "rowPadding": 9, "symbolSize": 125, "symbolType": "circle", "symbolOpacity": 1, "symbolStrokeWidth": 0, "labelFontSize": 18, "labelFont": "DejaVu Sans", "labelColor": "#333333", "fillColor": "#ececec", "strokeColor": "#d6d6d6", "cornerRadius": 4}}
          }
        },
        {
          "mark": {"type": "line", "color": "#1f77b4", "strokeWidth": 2.5},
          "encoding": {"x": {"field": "hora", "type": "temporal"}, "y": {"field": "dose", "type": "quantitative"}}
        },
        {
          "data": {"format": {"parse": {"hora": "utc:'%H:%M'"}}, "values": [{"hora": "08:30"}, {"hora": "11:30"}]},
          "mark": {"type": "rule", "color": "#ff0000", "strokeDash": [9, 5], "strokeWidth": 2.5},
          "encoding": {"x": {"field": "hora", "type": "temporal"}}
        }
      ]
    }
  ],
  "resolve": {"scale": {"y": "independent"}}
}
